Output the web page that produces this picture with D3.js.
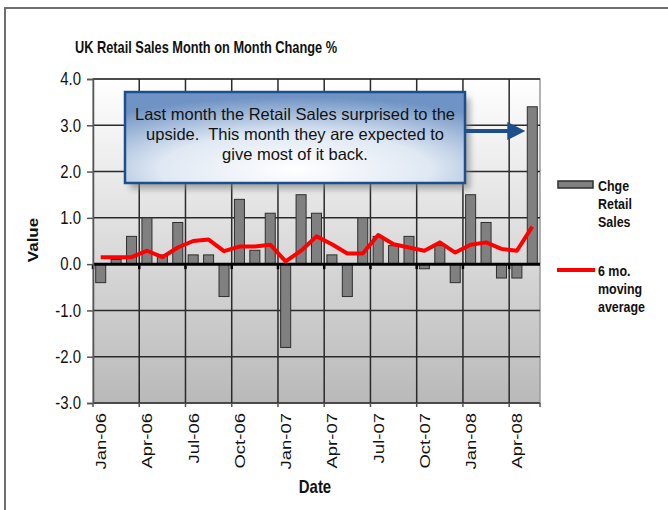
<!DOCTYPE html>
<html lang="en">
<head>
<meta charset="UTF-8">
<title>UK Retail Sales Month on Month Change %</title>
<script src="https://d3js.org/d3.v7.min.js"></script>
<style>
  body { margin: 0; background: #fff; }
  svg { display: block; font-family: "Liberation Sans", Arial, sans-serif; }
  text { white-space: pre; }
</style>
</head>
<body>
<div id="chart"></div>
<script>
// data
const months = ["Jan-06","Feb-06","Mar-06","Apr-06","May-06","Jun-06","Jul-06","Aug-06","Sep-06","Oct-06","Nov-06","Dec-06",
                "Jan-07","Feb-07","Mar-07","Apr-07","May-07","Jun-07","Jul-07","Aug-07","Sep-07","Oct-07","Nov-07","Dec-07",
                "Jan-08","Feb-08","Mar-08","Apr-08","May-08"];
const retailChange = [-0.4, 0.1, 0.6, 1.0, 0.2, 0.9, 0.2, 0.2, -0.7, 1.4, 0.3, 1.1,
                      -1.8, 1.5, 1.1, 0.2, -0.7, 1.0, 0.6, 0.4, 0.6, -0.1, 0.4, -0.4,
                      1.5, 0.9, -0.3, -0.3, 3.4];
const movingAvg = [0.15, 0.15, 0.15, 0.29, 0.15, 0.36, 0.5, 0.53, 0.28, 0.38, 0.38, 0.42,
                   0.06, 0.29, 0.6, 0.43, 0.23, 0.23, 0.63, 0.43, 0.36, 0.29, 0.47, 0.25,
                   0.42, 0.47, 0.33, 0.29, 0.81];
const yTicks = [4, 3, 2, 1, 0, -1, -2, -3];
const labelEvery = 3;
const noteLines = ["Last month the Retail Sales surprised to the",
                   "upside.  This month they are expected to",
                   "give most of it back."];
const legendBars = ["Chge", "Retail", "Sales"];
const legendLine = ["6 mo.", "moving", "average"];

const W = 668, H = 510;
const plot = {left: 93, right: 540, top: 79, bottom: 403};
const squish = 0.83;   // the picture is narrowed sideways, text too

const svg = d3.select("#chart").append("svg")
    .attr("width", W).attr("height", H);

const defs = svg.append("defs");
const bg = defs.append("linearGradient").attr("id", "plotbg")
    .attr("x1", 0).attr("y1", 0).attr("x2", 0).attr("y2", 1);
bg.append("stop").attr("offset", "0%").attr("stop-color", "#ffffff");
bg.append("stop").attr("offset", "100%").attr("stop-color", "#b9b9b9");

const boxFill = defs.append("radialGradient").attr("id", "boxfill")
    .attr("cx", "50%").attr("cy", "85%").attr("r", "80%");
boxFill.append("stop").attr("offset", "0%").attr("stop-color", "#ffffff");
boxFill.append("stop").attr("offset", "50%").attr("stop-color", "#dfe8f3");
boxFill.append("stop").attr("offset", "100%").attr("stop-color", "#6f93c4");

const blur = defs.append("filter").attr("id", "shadow")
    .attr("x", "-10%").attr("y", "-10%").attr("width", "130%").attr("height", "140%");
blur.append("feGaussianBlur").attr("stdDeviation", 3);

// horizontal text helper, narrowed like the source
function htext(g, x, y, str, k = squish) {
  return g.append("text")
    .attr("transform", `translate(${x},${y}) scale(${k},1)`)
    .text(str);
}

// outer frame
svg.append("rect")
    .attr("x", 5).attr("y", 8).attr("width", W).attr("height", H)
    .attr("fill", "none").attr("stroke", "#6e6e6e").attr("stroke-width", 2);

// scales
const x = d3.scaleBand().domain(months)
    .range([plot.left, plot.right])
    .paddingInner(0.35).paddingOuter(0.175);
const y = d3.scaleLinear().domain([-3, 4]).range([plot.bottom, plot.top]);
const step = x.step();

// plot background
svg.append("rect")
    .attr("x", plot.left).attr("y", plot.top)
    .attr("width", plot.right - plot.left).attr("height", plot.bottom - plot.top)
    .attr("fill", "url(#plotbg)").attr("stroke", "#9a9a9a").attr("stroke-width", 1.5);

// grid
svg.append("g").selectAll("line")
  .data(yTicks)
  .join("line")
    .attr("x1", plot.left).attr("x2", plot.right)
    .attr("y1", d => y(d)).attr("y2", d => y(d))
    .attr("stroke", "#2a2a2a").attr("stroke-width", 1.5);

const bounds = d3.range(labelEvery, months.length, labelEvery);
svg.append("g").selectAll("line")
  .data(bounds)
  .join("line")
    .attr("x1", i => plot.left + i * step).attr("x2", i => plot.left + i * step)
    .attr("y1", plot.top).attr("y2", plot.bottom)
    .attr("stroke", "#2a2a2a").attr("stroke-width", 1.5);

// bars
svg.append("g").selectAll("rect")
  .data(retailChange)
  .join("rect")
    .attr("x", (d, i) => x(months[i]))
    .attr("width", x.bandwidth())
    .attr("y", d => y(Math.max(0, d)))
    .attr("height", d => Math.abs(y(d) - y(0)))
    .attr("fill", "#808080").attr("stroke", "#2e2e2e").attr("stroke-width", 1);

// zero line with its ticks
svg.append("line")
    .attr("x1", plot.left).attr("x2", plot.right)
    .attr("y1", y(0)).attr("y2", y(0))
    .attr("stroke", "#000").attr("stroke-width", 3);
svg.append("g").selectAll("line")
  .data([0].concat(bounds))
  .join("line")
    .attr("x1", i => plot.left + i * step).attr("x2", i => plot.left + i * step)
    .attr("y1", y(0)).attr("y2", y(0) + 5)
    .attr("stroke", "#000").attr("stroke-width", 2.5);

// moving average
svg.append("path")
    .datum(movingAvg)
    .attr("fill", "none").attr("stroke", "#ff0000").attr("stroke-width", 4)
    .attr("stroke-linejoin", "round")
    .attr("d", d3.line()
      .x((d, i) => x(months[i]) + x.bandwidth() / 2)
      .y(d => y(d)));

// y axis (plain hyphen for negatives, as in the source)
const yAxis = svg.append("g")
    .attr("transform", `translate(${plot.left},0)`)
    .call(d3.axisLeft(y).tickValues(yTicks).tickFormat(d => d.toFixed(1)).tickSize(6).tickPadding(6));
yAxis.select(".domain").attr("stroke", "#555").attr("stroke-width", 1.5);
yAxis.selectAll(".tick line").attr("stroke", "#555").attr("stroke-width", 1.5);
yAxis.selectAll(".tick text")
    .attr("font-size", 18).attr("fill", "#111")
    .attr("transform", function() {
      const xx = +d3.select(this).attr("x");
      return `translate(${xx},0) scale(${squish},1) translate(${-xx},0)`;
    });

// x axis ticks at the bottom
svg.append("g").selectAll("line")
  .data([0].concat(bounds, [months.length]))
  .join("line")
    .attr("x1", i => plot.left + i * step).attr("x2", i => plot.left + i * step)
    .attr("y1", plot.bottom).attr("y2", plot.bottom + 4)
    .attr("stroke", "#555").attr("stroke-width", 1.5);

// x labels, turned upright
svg.append("g").selectAll("text")
  .data(months.filter((m, i) => i % labelEvery === 0))
  .join("text")
    .attr("transform", d => `translate(${x(d) + x.bandwidth() / 2},${plot.bottom + 10}) rotate(-90) scale(1,${squish})`)
    .attr("dy", "0.36em")
    .attr("text-anchor", "end")
    .attr("font-size", 18.5).attr("fill", "#111")
    .text(d => d);

// axis titles
htext(svg, 315, 493, "Date")
    .attr("text-anchor", "middle").attr("font-size", 18).attr("font-weight", "bold").attr("fill", "#111");
svg.append("text")
    .attr("transform", `translate(38,240) rotate(-90) scale(1,${squish})`)
    .attr("text-anchor", "middle")
    .attr("font-size", 17).attr("font-weight", "bold").attr("fill", "#111")
    .text("Value");

// title
htext(svg, 75, 53, "UK Retail Sales Month on Month Change %", 0.8)
    .attr("font-size", 16).attr("font-weight", "bold").attr("fill", "#111");

// note box
const note = {x: 125, y: 92, w: 340, h: 91};
svg.append("rect")
    .attr("x", note.x + 5).attr("y", note.y + 6).attr("width", note.w).attr("height", note.h)
    .attr("fill", "#777").attr("opacity", 0.6).attr("filter", "url(#shadow)");
svg.append("rect")
    .attr("x", note.x).attr("y", note.y).attr("width", note.w).attr("height", note.h)
    .attr("fill", "url(#boxfill)").attr("stroke", "#1d4f8f").attr("stroke-width", 2.5);
noteLines.forEach((t, i) => {
  htext(svg, note.x + note.w / 2, note.y + 28 + i * 20, t, 1)
      .attr("text-anchor", "middle").attr("font-size", 16.5).attr("fill", "#111");
});

// arrow to the last bar
const lastX = x(months[months.length - 1]);
const ay = 131;
svg.append("line")
    .attr("x1", note.x + note.w + 2).attr("x2", lastX - 16)
    .attr("y1", ay + 9).attr("y2", ay + 9)
    .attr("stroke", "#666").attr("stroke-width", 5).attr("opacity", 0.5).attr("filter", "url(#shadow)");
svg.append("line")
    .attr("x1", note.x + note.w).attr("x2", lastX - 18)
    .attr("y1", ay).attr("y2", ay)
    .attr("stroke", "#1d4f8f").attr("stroke-width", 4);
svg.append("path")
    .attr("d", `M${lastX - 20},${ay - 9} L${lastX - 2},${ay} L${lastX - 20},${ay + 9} Z`)
    .attr("fill", "#1d4f8f");

// legend
const lg = svg.append("g");
lg.append("rect")
    .attr("x", 558).attr("y", 181).attr("width", 35).attr("height", 7)
    .attr("fill", "#808080").attr("stroke", "#2e2e2e").attr("stroke-width", 1.5);
legendBars.forEach((t, i) => {
  htext(lg, 598, 191 + i * 18, t).attr("font-size", 15).attr("font-weight", "bold").attr("fill", "#111");
});
lg.append("line")
    .attr("x1", 557).attr("x2", 595).attr("y1", 270).attr("y2", 270)
    .attr("stroke", "#ff0000").attr("stroke-width", 4);
legendLine.forEach((t, i) => {
  htext(lg, 598, 276 + i * 18, t).attr("font-size", 15).attr("font-weight", "bold").attr("fill", "#111");
});
</script>
</body>
</html>
